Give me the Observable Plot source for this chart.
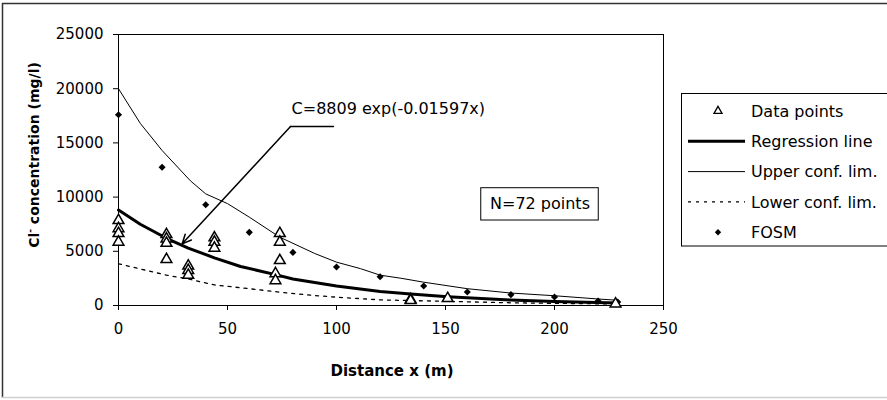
<!DOCTYPE html>
<html><head><meta charset="utf-8">
<script src="https://cdn.jsdelivr.net/npm/d3@7"></script>
<script src="https://cdn.jsdelivr.net/npm/@observablehq/plot@0.6"></script>
<style>body{margin:0;background:#fff}#chart{position:relative;width:887px;height:400px;overflow:hidden}</style>
</head><body><div id="chart"></div>
<script>
// Observed data points (triangles)
const dataX = [0,0,0,0, 22,22,22,22, 32,32,32, 44,44,44, 74,74,74, 72,72, 134,134, 151, 228];
const dataY = [7850,7100,6650,5850, 6550,6150,5750,4250, 3650,3250,2800, 6250,5850,5300, 6650,5850,4150, 2950,2300, 550,460, 650, 150];
// FOSM (diamonds)
const fosmX = [0,20,40,60,80,100,120,140,160,180,200,220,229];
const fosmY = [17600,12750,9300,6750,4900,3550,2650,1800,1250,1000,780,420,320];
// Regression line
const regX = [0,10,22,32,44,56,72,80,100,120,134,151,180,200,229];
const regY = [8800,7500,6200,5300,4400,3600,2850,2450,1800,1300,1050,800,500,370,230];
// Upper confidence limit
const upX = [0,10,20,33,40,50,60,74,90,100,111,120,130,140,160,180,200,220,229];
const upY = [20000,16800,14300,11500,10300,9400,8150,6300,4800,4000,3400,2800,2500,2150,1550,1150,900,600,480];
// Lower confidence limit
const lowX = [0,22,32,44,60,74,90,100,120,151,180,200,229];
const lowY = [3850,2800,2450,1900,1550,1230,920,770,520,380,250,200,140];
// Ticks
const xTicks = [0,50,100,150,200,250];
const yTicks = [0,5000,10000,15000,20000,25000];
// Annotations
const eqText = "C=8809 exp(-0.01597x)";
const eqPos = {x: 79.4, y: 18170};
const leaderX = [98.6, 78.9];
const leaderY = [16510, 16510];
const arrowTip = {x: 29.2, y: 5690};
const nText = "N=72 points";
const nBox = {x1: 166.4, x2: 220.3, y1: 7840, y2: 10820};
const legendLabels = ["Data points","Regression line","Upper conf. lim.","Lower conf. lim.","FOSM"];
const xLabel = "Distance x (m)";

const pts = dataX.map((x,i)=>({x, y: dataY[i]}));
const fosm = fosmX.map((x,i)=>({x, y: fosmY[i]}));
const reg = regX.map((x,i)=>({x, y: regY[i]}));
const up = upX.map((x,i)=>({x, y: upY[i]}));
const low = lowX.map((x,i)=>({x, y: lowY[i]}));
const leader = leaderX.map((x,i)=>({x, y: leaderY[i]}));
const fmt = d => String(d);

const plot = Plot.plot({
  width: 887, height: 400,
  marginLeft: 118, marginRight: 224, marginTop: 34, marginBottom: 95,
  style: {fontFamily: "DejaVu Sans", fontSize: "15px", color: "#000", background: "transparent", overflow: "visible"},
  x: {domain: [0,250], label: null},
  y: {domain: [0,25000], label: null},
  marks: [
    Plot.frame({stroke: "#000", strokeWidth: 1}),
    Plot.axisX({ticks: xTicks, tickFormat: fmt, tickSize: 5, tickPadding: 13, label: null, fontSize: 15}),
    Plot.axisY({ticks: yTicks, tickFormat: fmt, tickSize: 5, tickPadding: 10, label: null, fontSize: 15}),
    Plot.line(low, {x: "x", y: "y", stroke: "#000", strokeWidth: 1.3, strokeDasharray: "3,5"}),
    Plot.line(up, {x: "x", y: "y", stroke: "#000", strokeWidth: 1}),
    Plot.line(reg, {x: "x", y: "y", stroke: "#000", strokeWidth: 3}),
    Plot.dot(fosm, {x: "x", y: "y", symbol: "diamond2", fill: "#000", r: 3.2}),
    Plot.dot(pts, {x: "x", y: "y", symbol: "triangle", fill: "#fff", stroke: "#000", strokeWidth: 1.5, r: 4}),
    Plot.line(leader, {x: "x", y: "y", stroke: "#000", strokeWidth: 1.5}),
    Plot.arrow([{x1: leaderX[1], y1: leaderY[1], x2: arrowTip.x, y2: arrowTip.y}], {x1: "x1", y1: "y1", x2: "x2", y2: "y2", stroke: "#000", strokeWidth: 1.5, headLength: 10, headAngle: 50}),
    Plot.text([eqPos], {x: "x", y: "y", text: () => eqText, textAnchor: "start", fontSize: 16, fill: "#000"}),
    Plot.rect([nBox], {x1: "x1", x2: "x2", y1: "y1", y2: "y2", fill: "#fff", stroke: "#000", strokeWidth: 1}),
    Plot.text([nBox], {x: d => (d.x1 + d.x2) / 2, y: d => (d.y1 + d.y2) / 2, text: () => nText, fontSize: 16, fill: "#000"})
  ]
});
document.getElementById("chart").appendChild(plot);

const svg = d3.select(plot);
// outer chart border
const bg = svg.insert("g", ":first-child");
bg.append("line").attr("x1",2).attr("x2",900).attr("y1",3.5).attr("y2",3.5).attr("stroke","#333").attr("stroke-width",1.5);
bg.append("line").attr("x1",2.5).attr("x2",2.5).attr("y1",3).attr("y2",398).attr("stroke","#333").attr("stroke-width",1.5);
bg.append("line").attr("x1",2).attr("x2",900).attr("y1",397.5).attr("y2",397.5).attr("stroke","#d0d0d0").attr("stroke-width",1.5);

// axis titles
svg.append("text").attr("x",392).attr("y",376).attr("text-anchor","middle")
  .attr("font-family","DejaVu Sans").attr("font-weight","bold").attr("font-size",15).attr("fill","#000").text(xLabel);
const yl = svg.append("text").attr("transform","translate(39,155) rotate(-90)").attr("text-anchor","middle")
  .attr("font-family","DejaVu Sans").attr("font-weight","bold").attr("font-size",14).attr("fill","#000");
yl.append("tspan").text("Cl");
yl.append("tspan").attr("font-size",9).attr("dy",-6).text("-");
yl.append("tspan").attr("dy",6).text(" concentration (mg/l)");

// legend
const lg = svg.append("g");
lg.append("rect").attr("x",681.5).attr("y",93.5).attr("width",260).attr("height",152.5).attr("fill","#fff").attr("stroke","#000");
legendLabels.forEach((t,i) => {
  const cy = 111 + i * 30.3;
  lg.append("text").attr("x",751).attr("y",cy).attr("dy","0.36em").attr("text-anchor","start")
    .attr("font-family","DejaVu Sans").attr("font-size",16).attr("fill","#000").text(t);
  if (i === 0) {
    lg.append("path").attr("d", d3.symbol(d3.symbolTriangle, 28)()).attr("transform",`translate(718,${cy})`).attr("fill","#fff").attr("stroke","#000").attr("stroke-width",1.3);
  } else if (i === 4) {
    lg.append("path").attr("d", d3.symbol(d3.symbolDiamond2, 26)()).attr("transform",`translate(718,${cy})`).attr("fill","#000");
  } else {
    const sw = i === 1 ? 3 : (i === 2 ? 1 : 1.3);
    const l = lg.append("line").attr("x1",688).attr("x2",745).attr("y1",cy).attr("y2",cy).attr("stroke","#000").attr("stroke-width",sw);
    if (i === 3) l.attr("stroke-dasharray","3,5");
  }
});
</script>
</body></html>
